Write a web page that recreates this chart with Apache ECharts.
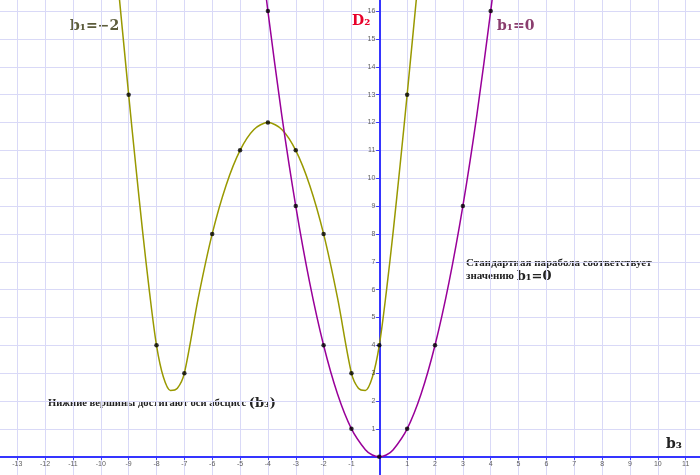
<!DOCTYPE html>
<html>
<head>
<meta charset="utf-8">
<script src="https://cdn.jsdelivr.net/npm/echarts@6/dist/echarts.min.js"></script>
<style>html,body{margin:0;padding:0;background:#fff}#c{width:700px;height:475px}</style>
</head>
<body>
<div id="c"></div>
<script>
// Marked points (black dots)
const oliveDotsX = [-9, -8, -7, -6, -5, -4, -3, -2, -1, 0, 1];
const oliveDotsY = [13, 4, 3, 8, 11, 12, 11, 8, 3, 4, 13];
const purpleDotsX = [-4, -3, -2, -1, 0, 1, 2, 3, 4];
const purpleDotsY = [16, 9, 4, 1, 0, 1, 4, 9, 16];

// Curves
const oliveCurveX = [-9.5, -9, -8.75, -8.5, -8.25, -8, -7.75, -7.5, -7.25, -7, -6.5, -6, -5.5, -5, -4.5, -4,
                     -3.5, -3, -2.5, -2, -1.5, -1, -0.75, -0.5, -0.25, 0, 0.25, 0.5, 0.75, 1, 1.5];
const oliveCurveY = [18.2, 13, 10.5, 8.1, 5.9, 4, 2.85, 2.38, 2.46, 3, 5.7, 8, 9.75, 11, 11.75, 12,
                     11.75, 11, 9.75, 8, 5.7, 3, 2.46, 2.38, 2.85, 4, 5.9, 8.1, 10.5, 13, 18.2];
const purpleCurveX = [-4.25, -4, -3.5, -3, -2.5, -2, -1.5, -1, -0.5, -0.25, 0, 0.25, 0.5, 1, 1.5, 2, 2.5, 3, 3.5, 4, 4.25];
const purpleCurveY = [18.06, 16, 12.25, 9, 6.25, 4, 2.25, 1, 0.25, 0.06, 0, 0.06, 0.25, 1, 2.25, 4, 6.25, 9, 12.25, 16, 18.06];

// Axis ranges (ticks every unit) and tick labels
const xRange = [-14, 12];
const yRange = [-1, 17];
const xTickLabels = [-13, -12, -11, -10, -9, -8, -7, -6, -5, -4, -3, -2, -1, 1, 2, 3, 4, 5, 6, 7, 8, 9, 10, 11];
const yTickLabels = [1, 2, 3, 4, 5, 6, 7, 8, 9, 10, 11, 12, 13, 14, 15, 16];

const zip = (xs, ys) => xs.map((x, i) => [x, ys[i]]);

const chart = echarts.init(document.getElementById('c'), null, {renderer: 'canvas'});
const gridColor = '#d9d9f7';
const axisBlue = '#3535ff';
const tickLabelStyle = {fontSize: 7, color: '#333', fontFamily: 'Liberation Sans, Arial, sans-serif'};

const baseAxis = (range) => ({
  type: 'value', min: range[0], max: range[1], interval: 1
});

chart.setOption({
  animation: false,
  backgroundColor: '#ffffff',
  grid: {left: -10.6, right: -13.5, top: -16.75, bottom: -9.55, containLabel: false, outerBoundsMode: 'none'},
  xAxis: [
    Object.assign(baseAxis(xRange), {
      position: 'bottom',
      axisLine: {onZero: true, lineStyle: {color: axisBlue, width: 2}},
      axisTick: {show: true, length: 3, lineStyle: {color: axisBlue, width: 1}},
      axisLabel: {show: false},
      splitLine: {show: true, lineStyle: {color: gridColor, width: 1}}
    }),
    Object.assign(baseAxis(xRange), {
      position: 'top',
      axisLine: {onZero: true, lineStyle: {color: axisBlue, width: 2}},
      axisTick: {show: true, inside: true, length: 3, lineStyle: {color: axisBlue, width: 1}},
      axisLabel: {show: false},
      splitLine: {show: false}
    })
  ],
  yAxis: [
    Object.assign(baseAxis(yRange), {
      position: 'left',
      axisLine: {onZero: true, lineStyle: {color: axisBlue, width: 2}},
      axisTick: {show: true, length: 3, lineStyle: {color: axisBlue, width: 1}},
      axisLabel: {show: false},
      splitLine: {show: true, lineStyle: {color: gridColor, width: 1}}
    }),
    Object.assign(baseAxis(yRange), {
      position: 'right',
      axisLine: {onZero: true, lineStyle: {color: axisBlue, width: 2}},
      axisTick: {show: true, inside: true, length: 3, lineStyle: {color: axisBlue, width: 1}},
      axisLabel: {show: false},
      splitLine: {show: false}
    })
  ],
  series: [
    {type: 'line', data: zip(oliveCurveX, oliveCurveY), showSymbol: false, smooth: 0.3,
     lineStyle: {color: '#999900', width: 1.5}, z: 3},
    {type: 'line', data: zip(purpleCurveX, purpleCurveY), showSymbol: false, smooth: 0.3,
     lineStyle: {color: '#990099', width: 1.5}, z: 3},
    {type: 'scatter', data: zip(oliveDotsX, oliveDotsY), symbolSize: 4.5, itemStyle: {color: '#000'}, z: 5},
    {type: 'scatter', data: zip(purpleDotsX, purpleDotsY), symbolSize: 4.5, itemStyle: {color: '#000'}, z: 5},
    // tick labels placed through the axes' scales
    {type: 'scatter', data: xTickLabels.map(v => [v, 0]), symbolSize: 0, silent: true, z: 4,
     label: Object.assign({show: true, position: 'bottom', distance: 4, formatter: p => String(p.value[0])}, tickLabelStyle)},
    {type: 'scatter', data: yTickLabels.map(v => [0, v]), symbolSize: 0, silent: true, z: 4,
     label: Object.assign({show: true, position: 'left', distance: 4, formatter: p => String(p.value[1])}, tickLabelStyle)}
  ],
  graphic: [
    {type: 'text', left: 70, top: 19, style: {text: 'b₁=−2', fill: '#5c5c3c',
      font: 'bold 14px "DejaVu Serif", serif'}},
    {type: 'text', left: 497, top: 19, style: {text: 'b₁=0', fill: '#8a3d6e',
      font: 'bold 14px "DejaVu Serif", serif'}},
    {type: 'text', left: 352, top: 14, style: {text: 'D₂', fill: '#e8002a',
      font: 'bold 14px "DejaVu Serif", serif'}},
    {type: 'text', left: 666, top: 437, style: {text: 'b₃', fill: '#222',
      font: 'bold 14px "DejaVu Serif", serif'}},
    {type: 'text', left: 466, top: 258, style: {text: 'Стандартная парабола соответствует', fill: '#222',
      font: 'bold 11px "Liberation Serif", serif'}},
    {type: 'text', left: 466, top: 270, style: {
      text: '{a|значению }{b|b₁=0}', fill: '#222',
      rich: {a: {font: 'bold 11px "Liberation Serif", serif', fill: '#222'},
             b: {font: 'bold 13px "DejaVu Serif", serif', fill: '#222'}}}},
    {type: 'text', left: 48, top: 397, style: {
      text: '{a|Нижние вершины достигают оси абсцисс }{b|(b₃)}', fill: '#222',
      rich: {a: {font: 'bold 10.6px "Liberation Serif", serif', fill: '#222'},
             b: {font: 'bold 13px "DejaVu Serif", serif', fill: '#222'}}}}
  ]
});
</script>
</body>
</html>
